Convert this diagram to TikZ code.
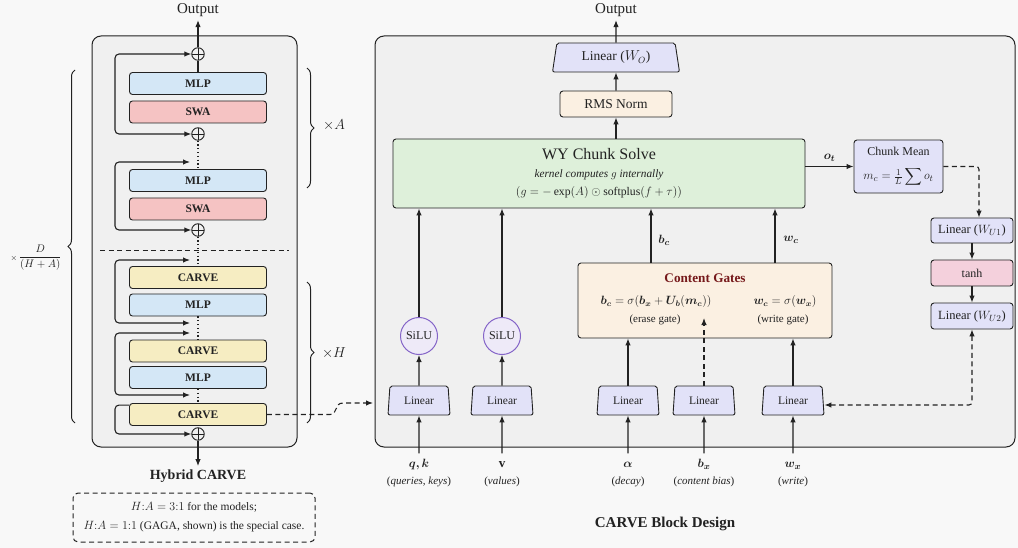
\documentclass[tikz,border=0pt]{standalone}
\usepackage{amsmath}
\usepackage{bm}
\usepackage{fontspec}
\setmainfont{Liberation Serif}
\usetikzlibrary{shapes.geometric,arrows.meta,decorations.pathreplacing}

\definecolor{pagebg}{HTML}{F8F8F8}
\definecolor{panelbg}{HTML}{F0F0F0}
\definecolor{edge}{HTML}{222222}
\definecolor{mlpblue}{HTML}{D4E7F6}
\definecolor{swared}{HTML}{F5C3C3}
\definecolor{carveyel}{HTML}{F6EDC2}
\definecolor{lavender}{HTML}{E2E2F8}
\definecolor{solvegreen}{HTML}{DEF0DA}
\definecolor{peach}{HTML}{FBF0E2}
\definecolor{tanhpink}{HTML}{F4D0DC}
\definecolor{siluedge}{HTML}{8565C8}
\definecolor{silufill}{HTML}{EEEAF8}
\definecolor{gatered}{HTML}{76191B}

\newcommand\fsz[1]{\fontsize{#1}{#1}\selectfont}

\begin{document}
\begin{tikzpicture}[x=1pt,y=-1pt,color=edge,
  arr/.style={line width=1.1pt,-{Latex[length=7pt,width=5.5pt]}},
  biarr/.style={line width=1.1pt,{Latex[length=7pt,width=5.5pt]}-{Latex[length=7pt,width=5.5pt]}},
  dashline/.style={dash pattern=on 5pt off 3.5pt},
  dots/.style={line width=1.2pt,dash pattern=on 1.2pt off 2.6pt},
  panel/.style={draw,fill=panelbg,rounded corners=9pt,line width=1pt},
  blk/.style={draw,rounded corners=3pt,line width=0.9pt,minimum width=137pt,minimum height=22pt,inner sep=0pt,font=\fsz{11.5}\bfseries},
  oplus/.style={circle,draw,line width=0.9pt,minimum size=12.5pt,inner sep=0pt,
    path picture={\draw[line width=0.9pt] (path picture bounding box.north) -- (path picture bounding box.south)
      (path picture bounding box.west) -- (path picture bounding box.east);}},
  res/.style={line width=1.1pt,rounded corners=4pt},
  rbox/.style={draw,rounded corners=3pt,line width=0.9pt,inner sep=0pt},
  linear/.style={trapezium,trapezium left angle=76,trapezium right angle=76,trapezium stretches body,
    draw,fill=lavender,rounded corners=2pt,line width=0.9pt,minimum height=29pt,minimum width=62pt,
    inner sep=0pt,font=\fsz{11.5}},
  silu/.style={circle,draw=siluedge,fill=silufill,line width=1pt,minimum size=37pt,inner sep=0pt,font=\fsz{12}},
  inlab/.style={font=\fsz{13},text height=10pt,text depth=3pt,inner sep=4pt},
  indesc/.style={font=\fsz{11}},
  brace/.style={decorate,decoration={brace,amplitude=7pt},line width=1pt}]

\fill[pagebg] (0,0) rectangle (1018,548);
\useasboundingbox (0,0) rectangle (1018,548);

% ---------------- Hybrid stack ----------------
\node[panel,minimum width=205pt,minimum height=411pt] (lpanel) at (194.5,241.5) {};

\node[blk,fill=mlpblue]  (mlpA1)  at (198,83.5)  {MLP};
\node[blk,fill=swared]   (swaA1)  at (198,112)   {SWA};
\node[blk,fill=mlpblue]  (mlpA2)  at (198,180.5) {MLP};
\node[blk,fill=swared]   (swaA2)  at (198,209)   {SWA};
\node[blk,fill=carveyel] (carve1) at (198,277.5) {CARVE};
\node[blk,fill=mlpblue]  (mlpH1)  at (198,305)   {MLP};
\node[blk,fill=carveyel] (carve2) at (198,351)   {CARVE};
\node[blk,fill=mlpblue]  (mlpH2)  at (198,377.5) {MLP};
\node[blk,fill=carveyel] (carve3) at (198,414.5) {CARVE};

\node[oplus] (plus1) at (198,54)  {};
\node[oplus] (plus2) at (198,134) {};
\node[oplus] (plus3) at (198,230) {};
\node[oplus] (plus4) at (198,434) {};

\node[font=\fsz{15}] (outL) at (198,10) {Output};
\draw[arr] (plus1.north) -- (outL.south);
\draw[line width=1.1pt] (mlpA1.north) -- (plus1.south);

% residual paths
\coordinate (dA) at (198,162);
\coordinate (dB) at (198,260);
\coordinate (dC) at (198,323);
\coordinate (dD) at (198,333);
\coordinate (dE) at (198,395);
\draw[res,biarr] (plus1.west) -| (115,94) |- (plus2.west);
\draw[res,biarr] ([xshift=-8pt]dA) -| (115,196) |- (plus3.west);
\draw[res,biarr] ([xshift=-8pt]dB) -| (115,290) |- ([xshift=-8pt]dC);
\draw[res,biarr] ([xshift=-8pt]dD) -| (115,365) |- ([xshift=-8pt]dE);
\draw[res,arr] ([yshift=-2pt]carve3.north west) -| (115,420) |- (plus4.west);

% repeated layers
\draw[dots] (plus2.south) -- (mlpA2.north);
\draw[dots] (plus3.south) -- (carve1.north);
\draw[dots] (mlpH1.south) -- (carve2.north);
\draw[dots] (mlpH2.south) -- (carve3.north);
\draw[dashline,line width=0.9pt] (100,250) -- (289,250);

\node[font=\fsz{14}\bfseries] (hyb) at (198,476) {Hybrid CARVE};
\draw[arr] (plus4.south) -- (hyb.north);

\node[draw,dashline,rounded corners=5pt,line width=1pt,minimum width=242pt,minimum height=49pt,
  align=center,font=\fontsize{11.5}{19}\selectfont] (note) at (194,517.5)
  {$H{:}A = 3{:}1$ for the models;\\ $H{:}A = 1{:}1$ (GAGA, shown) is the special case.};

% repetition braces
\draw[brace] (75,423) -- (75,70);
\node[font=\fsz{11}] (repD) at (36,258) {${\scriptstyle\times}\,\dfrac{D}{(H+A)}$};
\draw[brace] (307,68) -- (307,188);
\node[font=\fsz{14}] (repA) at (334,125) {$\times A$};
\draw[brace] (307,282) -- (307,423);
\node[font=\fsz{14}] (repH) at (334,353) {$\times H$};

% ---------------- CARVE block ----------------
\node[panel,minimum width=640pt,minimum height=411pt] (rpanel) at (695,241.5) {};

\node[font=\fsz{15}] (outR) at (616,10) {Output};
\node[linear,trapezium left angle=71,trapezium right angle=71,minimum width=127pt,font=\fsz{13.5}] (linO) at (616,57.5) {Linear ($W_O$)};
\node[rbox,fill=peach,minimum width=112pt,minimum height=26pt,font=\fsz{13.5}] (rms) at (616,104) {RMS Norm};
\draw[arr] (linO.north) -- (outR.south);
\draw[arr] (rms.north) -- (linO.south);

\node[rbox,fill=solvegreen,minimum width=412pt,minimum height=69pt] (wy) at (599,173.5) {};
\node[font=\fsz{16}] (wyT) at (599,154) {WY Chunk Solve};
\node[font=\fsz{11.3}\itshape] (wyK) at (599,175) {kernel computes $g$ internally};
\node[font=\fsz{11.7}] (wyG) at (599,193) {$(g = -\exp(A)\odot\mathrm{softplus}(f+\tau))$};
\draw[arr] (rms.south |- wy.north) -- (rms.south);

\node[silu] (silu1) at (419,336) {SiLU};
\node[silu] (silu2) at (502,336) {SiLU};

\node[linear] (linQK) at (419,400.5) {Linear};
\node[linear] (linV)  at (502,400.5) {Linear};
\node[linear] (linA)  at (628,400.5) {Linear};
\node[linear] (linB)  at (704,400.5) {Linear};
\node[linear] (linW)  at (793,400.5) {Linear};

\draw[arr] (linQK.north) -- (silu1.south);
\draw[arr] (silu1.north) -- (silu1.north |- wy.south);
\draw[arr] (linV.north) -- (silu2.south);
\draw[arr] (silu2.north) -- (silu2.north |- wy.south);

% content gates
\node[rbox,fill=peach,minimum width=254pt,minimum height=75pt] (gates) at (705,300.5) {};
\node[font=\fsz{13.2}\bfseries,text=gatered] (gatesT) at (705,278) {Content Gates};
\node[font=\fsz{12}] (gbF) at (656,302) {$\bm{b_c} = \sigma(\bm{b_x} + \bm{U_b}(\bm{m_c}))$};
\node[font=\fsz{11}] (gbN) at (655,320) {(erase gate)};
\node[font=\fsz{12}] (gwF) at (785,302) {$\bm{w_c} = \sigma(\bm{w_x})$};
\node[font=\fsz{11}] (gwN) at (783,320) {(write gate)};

\coordinate (bxEnd) at (703,318);
\draw[arr] (linA.north) -- (linA.north |- gates.south);
\draw[arr,dashline] (linB.north) -- (linB.north |- bxEnd);
\draw[arr] (linW.north) -- (linW.north |- gates.south);

\draw[arr] ([xshift=-54pt]gates.north) -- ([xshift=-54pt]gates.north |- wy.south);
\draw[arr] ([xshift=70pt]gates.north) -- ([xshift=70pt]gates.north |- wy.south);
\node[font=\fsz{13}] (lbc) at (664,240) {$\bm{b_c}$};
\node[font=\fsz{13}] (lwc) at (791,240) {$\bm{w_c}$};

% chunk statistics branch
\node[rbox,fill=lavender,minimum width=89pt,minimum height=53pt] (chunk) at (898.5,166.5) {};
\node[font=\fsz{12},inner sep=1pt] (chunkT) at (898.5,151) {Chunk Mean};
\node[font=\fsz{12.5},inner sep=0pt] (chunkF) at (898.5,177) {$m_c = \tfrac{1}{L}\displaystyle\sum o_t$};
\draw[arr] (wy.east |- chunk.west) -- (chunk.west) node[midway,above=1pt,font=\fsz{13}] (lot) {$\bm{o_t}$};

\node[rbox,fill=lavender,minimum width=82pt,minimum height=25pt,font=\fsz{12.5}] (wu1) at (972,230.5) {Linear ($W_{U1}$)};
\node[rbox,fill=tanhpink,minimum width=82pt,minimum height=26pt,font=\fsz{12}] (tanh) at (972,273) {tanh};
\node[rbox,fill=lavender,minimum width=82pt,minimum height=26pt,font=\fsz{12.5}] (wu2) at (972,316) {Linear ($W_{U2}$)};
\draw[arr] (wu1.south) -- (tanh.north);
\draw[arr] (tanh.south) -- (wu2.north);
\draw[arr,dashline,rounded corners=3pt] (chunk.east) -| ([xshift=7pt]wu1.north);
\draw[biarr,dashline,rounded corners=3pt] (wu2.south) |- ([xshift=1pt,yshift=-4.5pt]linW.east);

% link from the stack into the block
\coordinate (qkIn) at (373,403);
\draw[arr,dashline] (carve3.east) -- (330,414.5) .. controls (338,414.5) and (334,403) .. (343,403) -- (qkIn);

% inputs
\node[inlab] (qk) at (419,464) {$\bm{q,k}$};
\node[indesc] (qkd) at (419,482) {(\textit{queries, keys})};
\node[inlab] (vv) at (502,464) {$\mathbf{v}$};
\node[indesc] (vd) at (502,482) {(\textit{values})};
\node[inlab] (al) at (628,464) {$\bm{\alpha}$};
\node[indesc] (ald) at (628,482) {(\textit{decay})};
\node[inlab] (bx) at (704,464) {$\bm{b_x}$};
\node[indesc] (bxd) at (704,482) {(\textit{content bias})};
\node[inlab] (wx) at (793,464) {$\bm{w_x}$};
\node[indesc] (wxd) at (793,482) {(\textit{write})};
\draw[arr] (qk.north) -- (linQK.south);
\draw[arr] (vv.north) -- (linV.south);
\draw[arr] (al.north) -- (linA.south);
\draw[arr] (bx.north) -- (linB.south);
\draw[arr] (wx.north) -- (linW.south);

\node[font=\fsz{15}\bfseries] (design) at (665,524) {CARVE Block Design};
\end{tikzpicture}
\end{document}
